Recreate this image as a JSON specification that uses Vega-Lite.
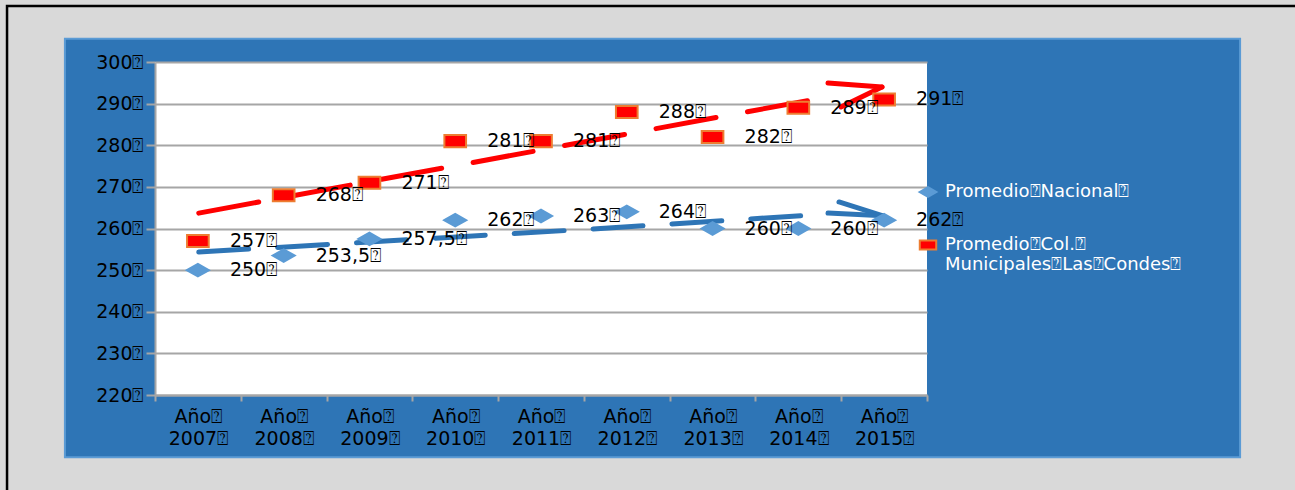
{
  "$schema": "https://vega.github.io/schema/vega-lite/v6.json",
  "width": 772,
  "height": 333,
  "autosize": {"type": "none"},
  "padding": {"left": 155, "top": 62, "right": 368, "bottom": 95},
  "background": "#2e75b6",
  "config": {"view": {"fill": "white", "stroke": null}, "font": "DejaVu Sans"},
  "datasets": {
    "puntajes": [
      {"anio": 2007, "serie": "Promedio Nacional", "valor": 250, "label": "250⍰"},
      {"anio": 2008, "serie": "Promedio Nacional", "valor": 253.5, "label": "253,5⍰"},
      {"anio": 2009, "serie": "Promedio Nacional", "valor": 257.5, "label": "257,5⍰"},
      {"anio": 2010, "serie": "Promedio Nacional", "valor": 262, "label": "262⍰"},
      {"anio": 2011, "serie": "Promedio Nacional", "valor": 263, "label": "263⍰"},
      {"anio": 2012, "serie": "Promedio Nacional", "valor": 264, "label": "264⍰"},
      {"anio": 2013, "serie": "Promedio Nacional", "valor": 260, "label": "260⍰"},
      {"anio": 2014, "serie": "Promedio Nacional", "valor": 260, "label": "260⍰"},
      {"anio": 2015, "serie": "Promedio Nacional", "valor": 262, "label": "262⍰"},
      {"anio": 2007, "serie": "Promedio Col. Municipales Las Condes", "valor": 257, "label": "257⍰"},
      {"anio": 2008, "serie": "Promedio Col. Municipales Las Condes", "valor": 268, "label": "268⍰"},
      {"anio": 2009, "serie": "Promedio Col. Municipales Las Condes", "valor": 271, "label": "271⍰"},
      {"anio": 2010, "serie": "Promedio Col. Municipales Las Condes", "valor": 281, "label": "281⍰"},
      {"anio": 2011, "serie": "Promedio Col. Municipales Las Condes", "valor": 281, "label": "281⍰"},
      {"anio": 2012, "serie": "Promedio Col. Municipales Las Condes", "valor": 288, "label": "288⍰"},
      {"anio": 2013, "serie": "Promedio Col. Municipales Las Condes", "valor": 282, "label": "282⍰"},
      {"anio": 2014, "serie": "Promedio Col. Municipales Las Condes", "valor": 289, "label": "289⍰"},
      {"anio": 2015, "serie": "Promedio Col. Municipales Las Condes", "valor": 291, "label": "291⍰"}
    ],
    "flechas": [
      {"flecha": "roja", "trazo": "eje", "x": 2007.01, "y": 263.7},
      {"flecha": "roja", "trazo": "eje", "x": 2014.136, "y": 290.82},
      {"flecha": "roja", "trazo": "punta1", "x": 2014.346, "y": 294.95},
      {"flecha": "roja", "trazo": "punta1", "x": 2014.975, "y": 293.99},
      {"flecha": "roja", "trazo": "punta2", "x": 2014.497, "y": 289.19},
      {"flecha": "roja", "trazo": "punta2", "x": 2014.975, "y": 293.99},
      {"flecha": "azul", "trazo": "eje", "x": 2007.01, "y": 254.35},
      {"flecha": "azul", "trazo": "eje", "x": 2011.594, "y": 259.88},
      {"flecha": "azul", "trazo": "eje", "x": 2014.077, "y": 263.12},
      {"flecha": "azul", "trazo": "punta1", "x": 2014.474, "y": 266.37},
      {"flecha": "azul", "trazo": "punta1", "x": 2014.987, "y": 263.05},
      {"flecha": "azul", "trazo": "punta2", "x": 2014.346, "y": 263.72},
      {"flecha": "azul", "trazo": "punta2", "x": 2014.987, "y": 263.05}
    ]
  },
  "layer": [
    {
      "data": {"values": [{}]},
      "mark": {"type": "rect", "fillOpacity": 0, "stroke": "#d9d9d9", "strokeWidth": 140},
      "encoding": {
        "x": {"datum": 2004.623, "type": "quantitative"},
        "x2": {"datum": 2019.976},
        "y": {"datum": 322.51, "type": "quantitative"},
        "y2": {"datum": 188.12}
      }
    },
    {
      "data": {"values": [{}]},
      "mark": {"type": "rect", "fillOpacity": 0, "stroke": "#000000", "strokeWidth": 2.5},
      "encoding": {
        "x": {"datum": 2004.775, "type": "quantitative"},
        "x2": {"datum": 2021.5},
        "y": {"datum": 313.45, "type": "quantitative"},
        "y2": {"datum": 190}
      }
    },
    {
      "data": {"values": [{}]},
      "mark": {"type": "rect", "fillOpacity": 0, "stroke": "#5b9bd5", "strokeWidth": 2},
      "encoding": {
        "x": {"datum": 2005.45, "type": "quantitative"},
        "x2": {"datum": 2019.15},
        "y": {"datum": 305.6, "type": "quantitative"},
        "y2": {"datum": 205.05}
      }
    },
    {
      "data": {"name": "flechas"},
      "transform": [{"filter": "datum.flecha === 'roja' && datum.trazo === 'eje'"}],
      "mark": {"type": "line", "color": "#ff0000", "strokeWidth": 5, "strokeCap": "round", "strokeDash": [61, 32]},
      "encoding": {
        "x": {"field": "x", "type": "quantitative"},
        "y": {"field": "y", "type": "quantitative"}
      }
    },
    {
      "data": {"name": "flechas"},
      "transform": [{"filter": "datum.flecha === 'roja' && datum.trazo !== 'eje'"}],
      "mark": {"type": "line", "color": "#ff0000", "strokeWidth": 5, "strokeCap": "round"},
      "encoding": {
        "x": {"field": "x", "type": "quantitative"},
        "y": {"field": "y", "type": "quantitative"},
        "detail": {"field": "trazo"}
      }
    },
    {
      "data": {"name": "flechas"},
      "transform": [{"filter": "datum.flecha === 'azul' && datum.trazo === 'eje'"}],
      "mark": {"type": "line", "color": "#2e75b6", "strokeWidth": 5, "strokeCap": "round", "strokeDash": [50, 29]},
      "encoding": {
        "x": {"field": "x", "type": "quantitative"},
        "y": {"field": "y", "type": "quantitative"}
      }
    },
    {
      "data": {"name": "flechas"},
      "transform": [{"filter": "datum.flecha === 'azul' && datum.trazo !== 'eje'"}],
      "mark": {"type": "line", "color": "#2e75b6", "strokeWidth": 5, "strokeCap": "round"},
      "encoding": {
        "x": {"field": "x", "type": "quantitative"},
        "y": {"field": "y", "type": "quantitative"},
        "detail": {"field": "trazo"}
      }
    },
    {
      "data": {"name": "puntajes"},
      "mark": {"type": "point", "filled": true, "opacity": 1, "size": 520, "strokeWidth": 2},
      "encoding": {
        "x": {
          "field": "anio", "type": "quantitative",
          "scale": {"domain": [2006.5, 2015.5], "nice": false, "zero": false},
          "axis": {
            "title": null, "grid": false,
            "values": [2006.5, 2007.5, 2008.5, 2009.5, 2010.5, 2011.5, 2012.5, 2013.5, 2014.5, 2015.5],
            "labelExpr": "datum.value < 2015 ? ['Año⍰', format(datum.value + 0.5, 'd') + '⍰'] : ''",
            "labelOffset": 42.9, "labelAlign": "center", "labelBaseline": "top",
            "labelPadding": 6, "labelLineHeight": 22, "labelFontSize": 19, "labelColor": "#000000",
            "labelFont": "DejaVu Sans", "labelOverlap": false, "labelFlush": false, "labelBound": false,
            "tickColor": "#a6a6a6", "tickSize": 6, "tickWidth": 2,
            "domainColor": "#a6a6a6", "domainWidth": 2
          }
        },
        "y": {
          "field": "valor", "type": "quantitative",
          "scale": {"domain": [220, 300], "nice": false, "zero": false},
          "axis": {
            "title": null, "values": [220, 230, 240, 250, 260, 270, 280, 290, 300],
            "labelExpr": "datum.value + '⍰'",
            "labelFontSize": 19, "labelColor": "#000000", "labelFont": "DejaVu Sans", "labelPadding": 3,
            "tickColor": "#a6a6a6", "tickSize": 9, "tickWidth": 2,
            "domainColor": "#a6a6a6", "domainWidth": 2,
            "grid": true, "gridColor": "#a6a6a6", "gridWidth": 2
          }
        },
        "fill": {
          "field": "serie", "type": "nominal",
          "scale": {"domain": ["Promedio Nacional", "Promedio Col. Municipales Las Condes"], "range": ["#5b9bd5", "#ff0000"]},
          "legend": {
            "orient": "none", "legendX": 763, "legendY": 120, "title": null, "padding": 0,
            "labelColor": "#ffffff", "labelFont": "DejaVu Sans", "labelFontSize": 18, "labelLimit": 400,
            "labelOffset": 7, "labelLineHeight": 23, "symbolSize": 300, "symbolStrokeWidth": 2, "rowPadding": 34,
            "labelExpr": "datum.value === 'Promedio Nacional' ? 'Promedio⍰Nacional⍰' : ['Promedio⍰Col.⍰', 'Municipales⍰Las⍰Condes⍰']",
            "encode": {"symbols": {"update": {"fillOpacity": {"signal": "datum.value === 'Promedio Nacional' ? 0 : 1"}}}}
          }
        },
        "stroke": {
          "field": "serie", "type": "nominal",
          "scale": {"domain": ["Promedio Nacional", "Promedio Col. Municipales Las Condes"], "range": ["#5b9bd5", "#ed7d31"]}
        },
        "shape": {
          "field": "serie", "type": "nominal",
          "scale": {"domain": ["Promedio Nacional", "Promedio Col. Municipales Las Condes"], "range": ["M-0.97,0L0,-0.55L0.97,0L0,0.55Z", "M-0.95,-0.53H0.95V0.53H-0.95Z"]}
        }
      }
    },
    {
      "data": {"name": "puntajes"},
      "mark": {"type": "text", "align": "left", "baseline": "middle", "dx": 32, "fontSize": 19, "font": "DejaVu Sans", "color": "#000000"},
      "encoding": {
        "x": {"field": "anio", "type": "quantitative"},
        "y": {"field": "valor", "type": "quantitative"},
        "text": {"field": "label"}
      }
    }
  ]
}
